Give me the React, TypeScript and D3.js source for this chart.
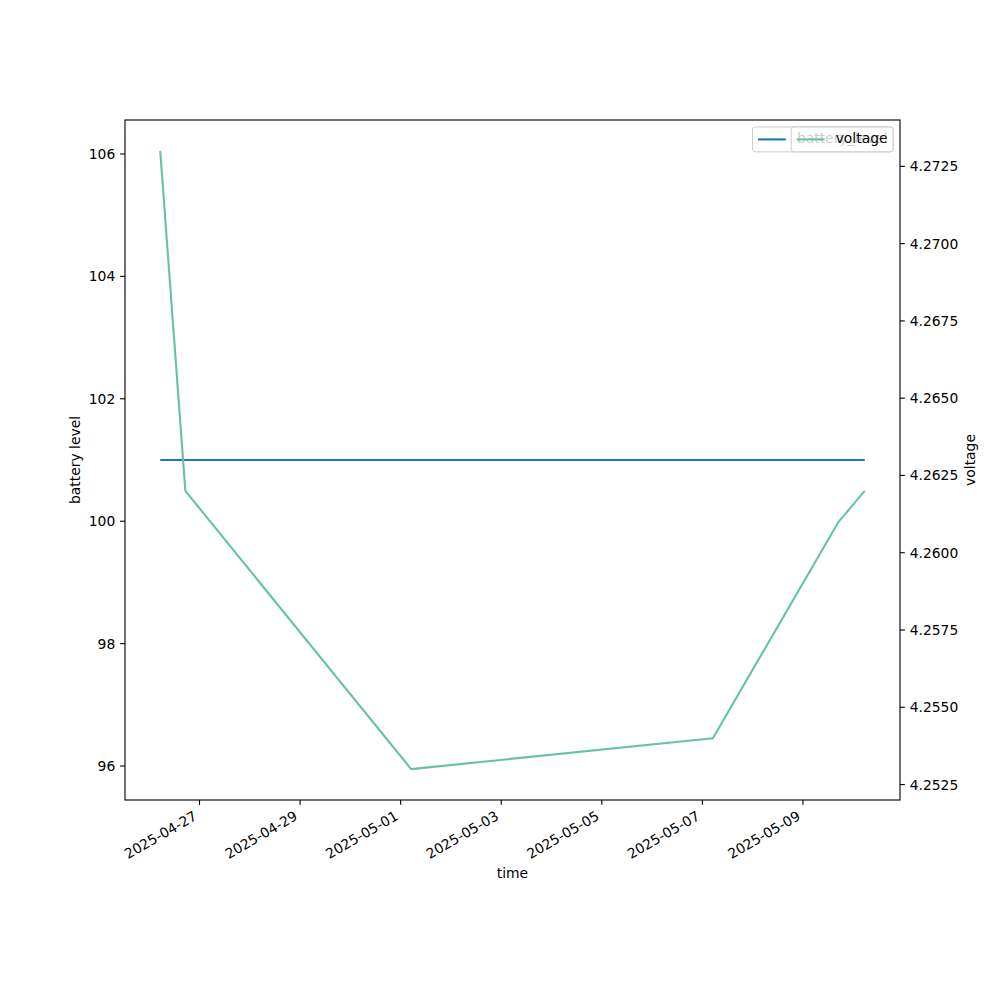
import React, { useMemo } from 'react';
import * as d3 from 'd3';

// readings
const times = [
  '2025-04-26T05:15:00Z',
  '2025-04-26T17:15:00Z',
  '2025-05-01T05:00:00Z',
  '2025-05-07T05:00:00Z',
  '2025-05-09T17:00:00Z',
  '2025-05-10T05:30:00Z',
];
const batteryLevel = [101, 101, 101, 101, 101, 101];
const voltage = [4.273, 4.262, 4.253, 4.254, 4.261, 4.262];

const xTickLabels = [
  '2025-04-27', '2025-04-29', '2025-05-01', '2025-05-03',
  '2025-05-05', '2025-05-07', '2025-05-09',
];
const leftTicks = [96, 98, 100, 102, 104, 106];
const rightTicks = [4.2525, 4.255, 4.2575, 4.26, 4.2625, 4.265, 4.2675, 4.27, 4.2725];

const FONT = 'DejaVu Sans, sans-serif';
const FS = 13.89;
const BLUE = '#1f77b4';
const GREEN = '#66c2a5';

const margin = { left: 125, right: 900, top: 120, bottom: 800 };

function measure(text: string): number {
  const c = document.createElement('canvas').getContext('2d');
  if (!c) return text.length * FS * 0.6;
  c.font = `${FS}px DejaVu Sans`;
  return c.measureText(text).width;
}

// matplotlib-like autoscale: 5% margins, singular data expanded
function padDomain(vals: number[]): [number, number] {
  let [lo, hi] = d3.extent(vals) as [number, number];
  if (lo === hi) {
    const d = Math.abs(lo) * 0.05 || 1;
    lo -= d;
    hi += d;
  }
  const m = (hi - lo) * 0.05;
  return [lo - m, hi + m];
}

interface Row { t: Date; battery: number; volt: number }

const Legend: React.FC<{ label: string; color: string }> = ({ label, color }) => {
  const pad = 0.4 * FS;
  const handle = 2 * FS;
  const gap = 0.8 * FS;
  const w = pad + handle + gap + measure(label) + pad;
  const h = 2 * pad + 13.8;
  const x = margin.right - 0.5 * FS - w;
  const y = margin.top + 0.5 * FS;
  return (
    <g>
      <rect x={x} y={y} width={w} height={h} rx={2.8} fill="white" fillOpacity={0.8} stroke="#cccccc" strokeWidth={1} />
      <line x1={x + pad} x2={x + pad + handle} y1={y + h / 2} y2={y + h / 2} stroke={color} strokeWidth={2.1} />
      <text x={x + pad + handle + gap} y={y + pad + 10.6} fontSize={FS} fontFamily={FONT}>{label}</text>
    </g>
  );
};

export default function App() {
  const data: Row[] = useMemo(
    () => times.map((s, i) => ({ t: new Date(s), battery: batteryLevel[i], volt: voltage[i] })),
    [],
  );

  const x = useMemo(() => {
    const t = data.map(d => +d.t);
    return d3.scaleUtc()
      .domain(padDomain(t).map(v => new Date(v)))
      .range([margin.left, margin.right]);
  }, [data]);

  const y1 = useMemo(
    () => d3.scaleLinear().domain(padDomain(batteryLevel)).range([margin.bottom, margin.top]),
    [],
  );
  const y2 = useMemo(
    () => d3.scaleLinear().domain(padDomain(voltage)).range([margin.bottom, margin.top]),
    [],
  );

  const batteryPath = d3.line<Row>().x(d => x(d.t)).y(d => y1(d.battery))(data) || '';
  const voltPath = d3.line<Row>().x(d => x(d.t)).y(d => y2(d.volt))(data) || '';

  const tickLen = 4.86;
  const tickPad = 4.86;
  const xLabelTop = margin.bottom + tickLen + tickPad;

  return (
    <div style={{ position: 'absolute', left: 0, top: 0 }}>
      <svg width={1000} height={1000} style={{ display: 'block', background: 'white' }}>
        <rect x={0} y={0} width={1000} height={1000} fill="white" />

        {/* battery axis (ax1) */}
        <path d={batteryPath} fill="none" stroke={BLUE} strokeWidth={2.1} />
        <Legend label="battery_level" color={BLUE} />

        {/* voltage axis (ax2) drawn above */}
        <path d={voltPath} fill="none" stroke={GREEN} strokeWidth={2.1} strokeLinejoin="round" />

        {/* spines */}
        <rect
          x={margin.left}
          y={margin.top}
          width={margin.right - margin.left}
          height={margin.bottom - margin.top}
          fill="none"
          stroke="black"
          strokeWidth={1.11}
        />

        {/* x ticks */}
        {xTickLabels.map(lbl => {
          const tx = x(new Date(lbl + 'T00:00:00Z'));
          const bx = tx;
          const by = xLabelTop + 0.866 * 13.8;
          return (
            <g key={lbl}>
              <line x1={tx} x2={tx} y1={margin.bottom} y2={margin.bottom + tickLen} stroke="black" strokeWidth={1.11} />
              <text
                transform={`translate(${bx},${by}) rotate(-30)`}
                y={-3.2}
                textAnchor="end"
                fontSize={FS}
                fontFamily={FONT}
              >
                {lbl}
              </text>
            </g>
          );
        })}

        {/* left ticks */}
        {leftTicks.map(v => (
          <g key={v}>
            <line x1={margin.left - tickLen} x2={margin.left} y1={y1(v)} y2={y1(v)} stroke="black" strokeWidth={1.11} />
            <text x={margin.left - tickLen - tickPad} y={y1(v) + 5} textAnchor="end" fontSize={FS} fontFamily={FONT}>
              {v}
            </text>
          </g>
        ))}

        {/* right ticks */}
        {rightTicks.map(v => (
          <g key={v}>
            <line x1={margin.right} x2={margin.right + tickLen} y1={y2(v)} y2={y2(v)} stroke="black" strokeWidth={1.11} />
            <text x={margin.right + tickLen + tickPad} y={y2(v) + 5} fontSize={FS} fontFamily={FONT}>
              {v.toFixed(4)}
            </text>
          </g>
        ))}

        {/* axis labels */}
        <text x={(margin.left + margin.right) / 2} y={878} textAnchor="middle" fontSize={FS} fontFamily={FONT}>
          time
        </text>
        <text
          transform={`translate(80,${(margin.top + margin.bottom) / 2}) rotate(-90)`}
          textAnchor="middle"
          fontSize={FS}
          fontFamily={FONT}
        >
          battery level
        </text>
        <text
          transform={`translate(974.5,${(margin.top + margin.bottom) / 2}) rotate(-90)`}
          textAnchor="middle"
          fontSize={FS}
          fontFamily={FONT}
        >
          voltage
        </text>

        <Legend label="voltage" color={GREEN} />
      </svg>
    </div>
  );
}
